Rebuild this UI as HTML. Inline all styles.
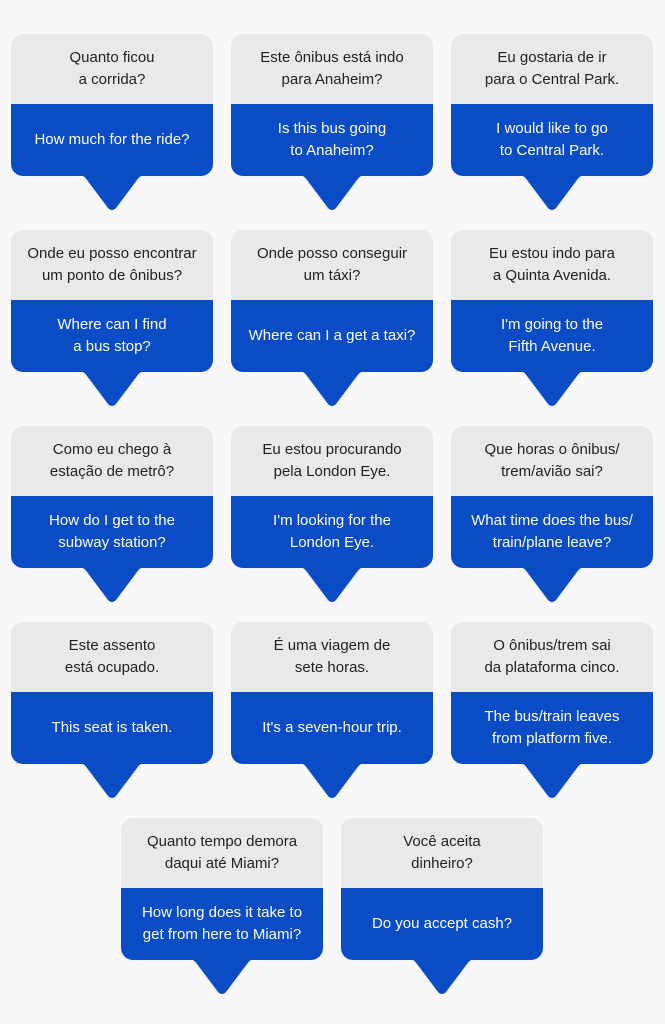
<!DOCTYPE html>
<html><head><meta charset="utf-8"><style>
body{margin:0;width:665px;height:1024px;background:#f8f8f8;position:relative;font-family:"Liberation Sans",sans-serif;overflow:hidden}
.c{position:absolute;width:202px;height:176px}
.g{position:absolute;left:0;top:0;width:202px;height:70px;background:#e9e9e9;border-radius:12px 12px 0 0;color:#222;font-size:15px;line-height:22px;display:flex;align-items:center;justify-content:center;text-align:center}
.b{position:absolute;left:0;top:70px;width:202px;height:72px;background:#0a4bc6;border-radius:0 0 12px 12px;color:#fff;font-size:15px;line-height:22px;display:flex;align-items:center;justify-content:center;text-align:center}
svg{position:absolute;left:0;top:140px}
</style></head><body>
<script>
const d=[
[11,34,"Quanto ficou<br>a corrida?","How much for the ride?"],
[231,34,"Este ônibus está indo<br>para Anaheim?","Is this bus going<br>to Anaheim?"],
[451,34,"Eu gostaria de ir<br>para o Central Park.","I would like to go<br>to Central Park."],
[11,230,"Onde eu posso encontrar<br>um ponto de ônibus?","Where can I find<br>a bus stop?"],
[231,230,"Onde posso conseguir<br>um táxi?","Where can I a get a taxi?"],
[451,230,"Eu estou indo para<br>a Quinta Avenida.","I'm going to the<br>Fifth Avenue."],
[11,426,"Como eu chego à<br>estação de metrô?","How do I get to the<br>subway station?"],
[231,426,"Eu estou procurando<br>pela London Eye.","I'm looking for the<br>London Eye."],
[451,426,"Que horas o ônibus/<br>trem/avião sai?","What time does the bus/<br>train/plane leave?"],
[11,622,"Este assento<br>está ocupado.","This seat is taken."],
[231,622,"É uma viagem de<br>sete horas.","It's a seven-hour trip."],
[451,622,"O ônibus/trem sai<br>da plataforma cinco.","The bus/train leaves<br>from platform five."],
[121,818,"Quanto tempo demora<br>daqui até Miami?","How long does it take to<br>get from here to Miami?"],
[341,818,"Você aceita<br>dinheiro?","Do you accept cash?"]];
let h="";
for(const [x,y,p,e] of d){h+=`<div class="c" style="left:${x}px;top:${y}px"><svg width="202" height="40"><path d="M64 0 Q72 0 76 6 L97 34 Q101 38 105 34 L126 6 Q130 0 138 0 Z" fill="#0a4bc6"/></svg><div class="g">${p}</div><div class="b">${e}</div></div>`}
document.write(h);
</script>
</body></html>
